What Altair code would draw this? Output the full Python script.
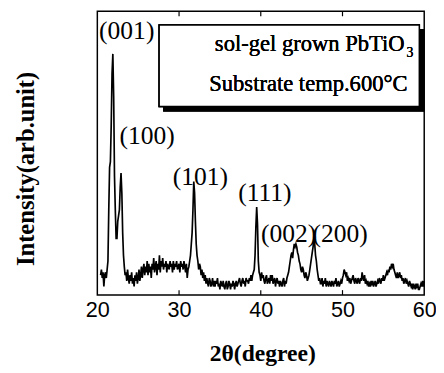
import altair as alt
import pandas as pd

# XRD scan: intensity (arb. unit, 0-100 scale) measured every 0.1 degree from 20.4 to 60.0
theta_start = 20.4
theta_step = 0.1
intensity = [
    7, 9, 6, 8, 3, 7, 8, 6, 9, 12,          # 20.4-21.3
    30, 45, 47, 60, 78, 85, 70, 42, 30, 20,  # 21.4-22.3
    20, 26, 28, 30, 38, 43, 36, 22, 14, 10,  # 22.4-23.3
    7, 8, 5, 9, 6, 4, 7, 5, 8, 4,            # 23.4-24.3
    6, 3, 7, 5, 8, 4, 6, 9, 5, 7,            # 24.4-25.3
    10, 6, 9, 11, 7, 10, 8, 12, 7, 11,       # 25.4-26.3
    8, 10, 6, 11, 9, 13, 8, 10, 12, 7,       # 26.4-27.3
    11, 9, 14, 8, 12, 10, 13, 9, 11, 10,     # 27.4-28.3
    12, 8, 11, 10, 9, 12, 10, 11, 8, 12,     # 28.4-29.3
    9, 11, 10, 12, 9, 10, 11, 8, 12, 10,     # 29.4-30.3
    11, 9, 12, 10, 8, 11, 6, 9, 10, 12,      # 30.4-31.3
    14, 18, 22, 30, 40, 36, 26, 18, 14, 12,  # 31.4-32.3
    9, 11, 10, 7, 9, 6, 8, 5, 7, 4,          # 32.4-33.3
    6, 4, 3, 6, 5, 3, 4, 6, 3, 5,            # 33.4-34.3
    3, 5, 4, 6, 3, 4, 2, 5, 4, 3,            # 34.4-35.3
    5, 3, 2, 4, 5, 2, 3, 5, 4, 2,            # 35.4-36.3
    4, 3, 5, 4, 2, 4, 5, 3, 4, 5,            # 36.4-37.3
    6, 4, 3, 5, 6, 4, 5, 3, 6, 5,            # 37.4-38.3
    5, 4, 6, 5, 7, 5, 7, 8, 9, 14,           # 38.4-39.3
    24, 31, 25, 12, 8, 7, 5, 8, 6, 7,        # 39.4-40.3
    5, 4, 6, 7, 4, 5, 6, 4, 7, 5,            # 40.4-41.3
    7, 4, 5, 6, 3, 5, 6, 4, 5, 3,            # 41.4-42.3
    5, 4, 3, 5, 6, 3, 5, 4, 6, 7,            # 42.4-43.3
    8, 10, 12, 14, 15, 13, 16, 18, 17, 18,   # 43.4-44.3
    17, 15, 14, 12, 11, 9, 8, 10, 9, 7,      # 44.4-45.3
    6, 8, 7, 5, 6, 7, 9, 11, 13, 15,         # 45.4-46.3
    17, 20, 18, 14, 12, 9, 7, 5, 6, 4,       # 46.4-47.3
    4, 6, 3, 5, 4, 6, 3, 5, 4, 3,            # 47.4-48.3
    5, 4, 3, 5, 4, 3, 5, 4, 6, 3,            # 48.4-49.3
    4, 5, 3, 4, 5, 4, 6, 7, 9, 8,            # 49.4-50.3
    7, 8, 5, 6, 5, 6, 4, 5, 6, 7,            # 50.4-51.3
    5, 4, 6, 5, 4, 6, 5, 4, 6, 5,            # 51.4-52.3
    8, 6, 5, 7, 4, 5, 4, 5, 3, 4,            # 52.4-53.3
    3, 5, 4, 5, 3, 4, 5, 3, 4, 5,            # 53.4-54.3
    4, 6, 5, 4, 6, 5, 7, 5, 6, 7,            # 54.4-55.3
    8, 7, 9, 8, 10, 9, 11, 10, 11, 9,        # 55.4-56.3
    8, 7, 6, 8, 6, 7, 8, 6, 7, 5,            # 56.4-57.3
    6, 4, 5, 6, 4, 5, 4, 3, 5, 4,            # 57.4-58.3
    3, 4, 2, 4, 3, 2, 4, 3, 4, 2,            # 58.4-59.3
    2, 3, 4, 3, 5, 3, 5,                     # 59.4-60.0
]
two_theta = [round(theta_start + theta_step * k, 1) for k in range(len(intensity))]

# peak labels (Miller indices) and their centre positions
peak_labels = ["(001)", "(100)", "(101)", "(111)", "(002)", "(200)"]
label_theta = [23.6, 26.1, 32.6, 40.5, 43.4, 49.7]
label_int = [93.0, 56.0, 41.5, 36.0, 21.5, 21.5]

x_ticks = [20, 30, 40, 50, 60]
inner_ticks = [30, 40, 50]

legend_line1 = "sol-gel grown PbTiO"
legend_sub = "3"
legend_line2 = "Substrate temp.600\u00b0C"

W, H = 333, 289

df = pd.DataFrame({"t": two_theta, "i": intensity})
lab = pd.DataFrame({"t": label_theta, "i": label_int, "lab": peak_labels})
tk = pd.DataFrame({"t": inner_ticks})

xscale = alt.Scale(domain=[20, 60], nice=False, zero=False)
yscale = alt.Scale(domain=[0, 100], nice=False, zero=False)

line = alt.Chart(df).mark_line(color="black", strokeWidth=1.7, interpolate="linear").encode(
    x=alt.X("t:Q", scale=xscale,
            axis=alt.Axis(values=x_ticks, title="2\u03b8(degree)", grid=False, domain=False,
                          ticks=False, tickSize=0, labelFont="Liberation Sans", labelFontSize=22,
                          labelColor="black", labelPadding=5, labelFlush=False,
                          titleFont="Liberation Serif", titleFontSize=24, titleFontWeight="bold",
                          titleColor="black", titleX=168, titleY=60, titleBaseline="middle",
                          titleAlign="center")),
    y=alt.Y("i:Q", scale=yscale,
            axis=alt.Axis(labels=False, ticks=False, domain=False, grid=False,
                          title="Intensity(arb.unit)", titleFont="Liberation Serif",
                          titleFontSize=25, titleFontWeight="bold", titleColor="black",
                          titleAngle=-90, titleX=-73, titleY=160, titleAlign="center",
                          titleBaseline="middle")),
)

labels = alt.Chart(lab).mark_text(font="Liberation Serif", fontSize=26, color="black",
                                   baseline="middle", align="center").encode(
    x=alt.X("t:Q", scale=xscale), y=alt.Y("i:Q", scale=yscale), text="lab:N")

top_ticks = alt.Chart(tk).mark_rule(color="black", strokeWidth=1.2).encode(
    x=alt.X("t:Q", scale=xscale), y=alt.value(0), y2=alt.value(5))
bot_ticks = alt.Chart(tk).mark_rule(color="black", strokeWidth=1.2).encode(
    x=alt.X("t:Q", scale=xscale), y=alt.value(H - 5), y2=alt.value(H))

shadow = alt.Chart(tk).mark_rect(color="black").encode(
    x=alt.value(67), x2=alt.value(333), y=alt.value(18), y2=alt.value(102))
box = alt.Chart(tk).mark_rect(fill="white", stroke="black", strokeWidth=1.5).encode(
    x=alt.value(63), x2=alt.value(328), y=alt.value(14), y2=alt.value(97))

leg1 = alt.Chart(tk).mark_text(font="Liberation Serif", fontSize=23, color="black",
                                align="right", baseline="alphabetic", text=legend_line1).encode(
    x=alt.value(313), y=alt.value(40))
leg1s = alt.Chart(tk).mark_text(font="Liberation Serif", fontSize=14, color="black",
                                 align="left", baseline="alphabetic", text=legend_sub).encode(
    x=alt.value(315), y=alt.value(47))
leg2 = alt.Chart(tk).mark_text(font="Liberation Serif", fontSize=23, color="black",
                                align="right", baseline="alphabetic", text=legend_line2).encode(
    x=alt.value(316), y=alt.value(81))

chart = alt.layer(line, top_ticks, bot_ticks, shadow, box, leg1, leg1s, leg2, labels).properties(
    width=W, height=H,
    autosize=alt.AutoSizeParams(type="none"),
    padding={"left": 91, "top": 0, "right": 12, "bottom": 76},
    background="white",
).configure_view(stroke="black", strokeWidth=1.5)

chart.save("out.html", embed_options={"renderer": "svg", "actions": False})
